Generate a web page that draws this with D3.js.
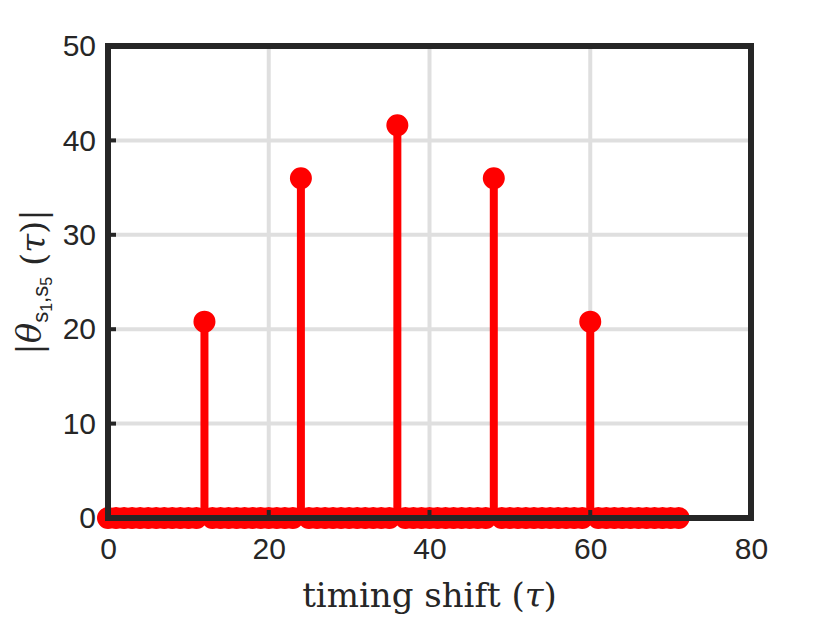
<!DOCTYPE html>
<html>
<head>
<meta charset="utf-8">
<script src="https://cdn.jsdelivr.net/npm/d3@7"></script>
<style>
  body { margin: 0; background: #fff; }
  .tick text { font-family: "Liberation Sans", Arial, sans-serif; font-size: 30px; fill: #262626; }
  .lbl { font-family: "DejaVu Serif", "Liberation Serif", serif; fill: #262626; }
  .sub { font-family: "Liberation Sans", Arial, sans-serif; }
</style>
</head>
<body>
<script>
// stem data: timing shift 0..71, all zero except the peaks
var shifts = d3.range(0, 72);
var peakShifts = [12, 24, 36, 48, 60];
var peakValues = [20.8, 36, 41.6, 36, 20.8];
var xTicks = [0, 20, 40, 60, 80];
var yTicks = [0, 10, 20, 30, 40, 50];

var values = shifts.map(function (s) {
    var k = peakShifts.indexOf(s);
    return k < 0 ? 0 : peakValues[k];
});
var data = shifts.map(function (s, i) { return {x: s, y: values[i]}; });

var width = 830, height = 623,
    mLeft = 108, mRight = 751, mTop = 46, mBottom = 518;

var x = d3.scaleLinear().domain([0, 80]).range([mLeft, mRight]);
var y = d3.scaleLinear().domain([0, 50]).range([mBottom, mTop]);

var svg = d3.select("body").append("svg")
    .attr("width", width)
    .attr("height", height);

// grid
svg.append("g").selectAll("line")
    .data(xTicks.slice(1, -1))
    .enter().append("line")
    .attr("x1", function (d) { return x(d); })
    .attr("x2", function (d) { return x(d); })
    .attr("y1", mTop).attr("y2", mBottom)
    .attr("stroke", "#dfdfdf").attr("stroke-width", 4);
svg.append("g").selectAll("line")
    .data(yTicks.slice(1, -1))
    .enter().append("line")
    .attr("y1", function (d) { return y(d); })
    .attr("y2", function (d) { return y(d); })
    .attr("x1", mLeft).attr("x2", mRight)
    .attr("stroke", "#dfdfdf").attr("stroke-width", 4);

// stems
svg.append("g").selectAll("line")
    .data(data.filter(function (d) { return d.y > 0; }))
    .enter().append("line")
    .attr("x1", function (d) { return x(d.x); })
    .attr("x2", function (d) { return x(d.x); })
    .attr("y1", y(0))
    .attr("y2", function (d) { return y(d.y); })
    .attr("stroke", "#ff0000").attr("stroke-width", 8);

svg.append("g").selectAll("circle")
    .data(data)
    .enter().append("circle")
    .attr("cx", function (d) { return x(d.x); })
    .attr("cy", function (d) { return y(d.y); })
    .attr("r", 9)
    .attr("fill", "#ff0000")
    .attr("stroke", "#ff0000")
    .attr("stroke-width", 4);

// axes
var xAxis = d3.axisBottom(x).tickValues(xTicks).tickSize(0).tickPadding(20);
var yAxis = d3.axisLeft(y).tickValues(yTicks).tickSize(0).tickPadding(12);

var gx = svg.append("g").attr("transform", "translate(0," + mBottom + ")").call(xAxis);
var gy = svg.append("g").attr("transform", "translate(" + mLeft + ",0)").call(yAxis);
gx.select(".domain").remove();
gy.select(".domain").remove();

// inward tick marks
svg.append("g").selectAll("line")
    .data(xTicks)
    .enter().append("line")
    .attr("x1", function (d) { return x(d); })
    .attr("x2", function (d) { return x(d); })
    .attr("y1", mBottom).attr("y2", mBottom - 8)
    .attr("stroke", "#262626").attr("stroke-width", 4);
svg.append("g").selectAll("line")
    .data(yTicks)
    .enter().append("line")
    .attr("y1", function (d) { return y(d); })
    .attr("y2", function (d) { return y(d); })
    .attr("x1", mLeft).attr("x2", mLeft + 8)
    .attr("stroke", "#262626").attr("stroke-width", 4);

svg.append("rect")
    .attr("x", mLeft).attr("y", mTop)
    .attr("width", mRight - mLeft).attr("height", mBottom - mTop)
    .attr("fill", "none")
    .attr("stroke", "#262626").attr("stroke-width", 6);

// labels
var xl = svg.append("text").attr("class", "lbl")
    .attr("x", (mLeft + mRight) / 2).attr("y", 607)
    .attr("text-anchor", "middle")
    .attr("font-size", 34);
xl.append("tspan").text("timing shift (");
xl.append("tspan").attr("font-style", "italic").text("τ");
xl.append("tspan").text(")");

var yl = svg.append("text").attr("class", "lbl")
    .attr("transform", "translate(41," + 282 + ")rotate(-90)")
    .attr("text-anchor", "middle")
    .attr("font-size", 34);
yl.append("tspan").text("|");
yl.append("tspan").attr("font-style", "italic").text("θ");
yl.append("tspan").attr("class", "sub").attr("font-size", 22).attr("dy", 7).text("s");
yl.append("tspan").attr("class", "sub").attr("font-size", 16).attr("dy", 4).text("1");
yl.append("tspan").attr("class", "sub").attr("font-size", 22).attr("dy", -4).text(",s");
yl.append("tspan").attr("class", "sub").attr("font-size", 16).attr("dy", 4).text("5");
yl.append("tspan").attr("dy", -7).text(" (");
yl.append("tspan").attr("font-style", "italic").text("τ");
yl.append("tspan").text(")|");
</script>
</body>
</html>
